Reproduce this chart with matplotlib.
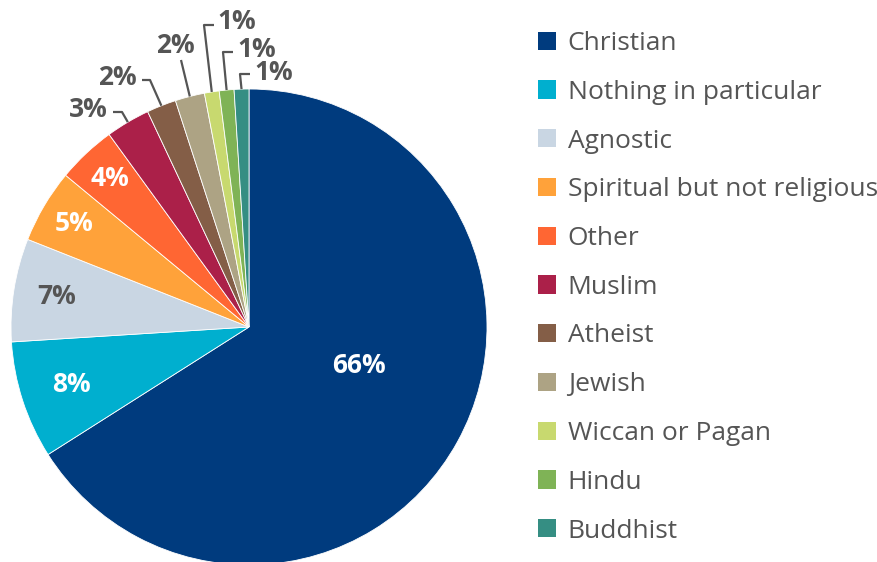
import numpy as np
import matplotlib.pyplot as plt
from matplotlib.patches import Patch

plt.rcParams['font.family'] = ['Open Sans', 'DejaVu Sans']

# Data
religions = ['Christian', 'Nothing in particular', 'Agnostic', 'Spiritual but not religious',
             'Other', 'Muslim', 'Atheist', 'Jewish', 'Wiccan or Pagan', 'Hindu', 'Buddhist']
shares = [66, 8, 7, 5, 4, 3, 2, 2, 1, 1, 1]
colors = ['#003b7e', '#00afcf', '#c9d6e3', '#ffa23a', '#ff6633', '#ab2049',
          '#845e47', '#ada384', '#c8d96f', '#7fb356', '#358e83']

GRAY = '#555555'
W, H = 878, 562
CX, CY, R = 249, 327, 238
FS = 19


def px(x, y):
    # pixel position -> data coords (pie centre at 0,0, radius 1)
    return (x - CX) / R, (CY - y) / R


def main():
    fig = plt.figure(figsize=(W / 100, H / 100), dpi=100)
    ax = fig.add_axes([0, 0, 1, 1])

    wedges, _ = ax.pie(shares, colors=colors, startangle=90, counterclock=False,
                       radius=1, center=(0, 0),
                       wedgeprops=dict(edgecolor='white', linewidth=0.6))
    ax.set_xlim(-CX / R, (W - CX) / R)
    ax.set_ylim((CY - H) / R, CY / R)
    ax.set_aspect('equal')
    ax.axis('off')

    # mid angle of every slice, clockwise from the top
    cum = np.cumsum([0] + shares)
    mids = (cum[:-1] + cum[1:]) / 2 / sum(shares) * 2 * np.pi

    # labels inside the slices
    inner = {0: (0.49, -0.17), 1: (0.784, 0), 2: (0.82, 0), 3: (0.854, 0), 4: (0.856, 0)}
    for i, (r, shift) in inner.items():
        a = mids[i] + shift
        col = GRAY if religions[i] == 'Agnostic' else 'white'
        ax.text(r * np.sin(a), r * np.cos(a), f'{shares[i]}%', color=col,
                fontsize=FS, fontweight='bold', ha='center', va='center')

    # labels outside with connectors: (elbow px, line end px, text anchor px, ha)
    outer = {
        5: ((122, 112), (113, 112), (108, 109), 'right'),
        6: ((150, 80), (142, 80), (137, 77), 'right'),
        7: ((181, 60), (181, 60), (175, 45), 'center'),
        8: ((204, 25), (214, 25), (217, 21), 'left'),
        9: ((223, 52), (233, 52), (237, 49), 'left'),
        10: ((240, 74), (250, 74), (254, 72), 'left'),
    }
    for i, (elbow, end, txt, ha) in outer.items():
        a = mids[i]
        sx, sy = np.sin(a), np.cos(a)
        ex, ey = px(*elbow)
        tx, ty = px(*end)
        ax.plot([sx, ex, tx], [sy, ey, ty], color=GRAY, lw=1.6, solid_capstyle='butt')
        lx, ly = px(*txt)
        ax.text(lx, ly, f'{shares[i]}%', color=GRAY, fontsize=FS, fontweight='bold',
                ha=ha, va='center')

    # legend
    handles = [Patch(facecolor=c, edgecolor='none') for c in colors]
    ax.legend(handles, religions, loc='upper left', bbox_to_anchor=(538 / W, 1 - 31 / H),
              bbox_transform=fig.transFigure, frameon=False, fontsize=FS,
              labelcolor=GRAY, handlelength=0.68, handleheight=0.68,
              handletextpad=0.45, labelspacing=0.9, borderpad=0, borderaxespad=0)

    fig.savefig('out.png', dpi=100)


if __name__ == "__main__":
    main()
